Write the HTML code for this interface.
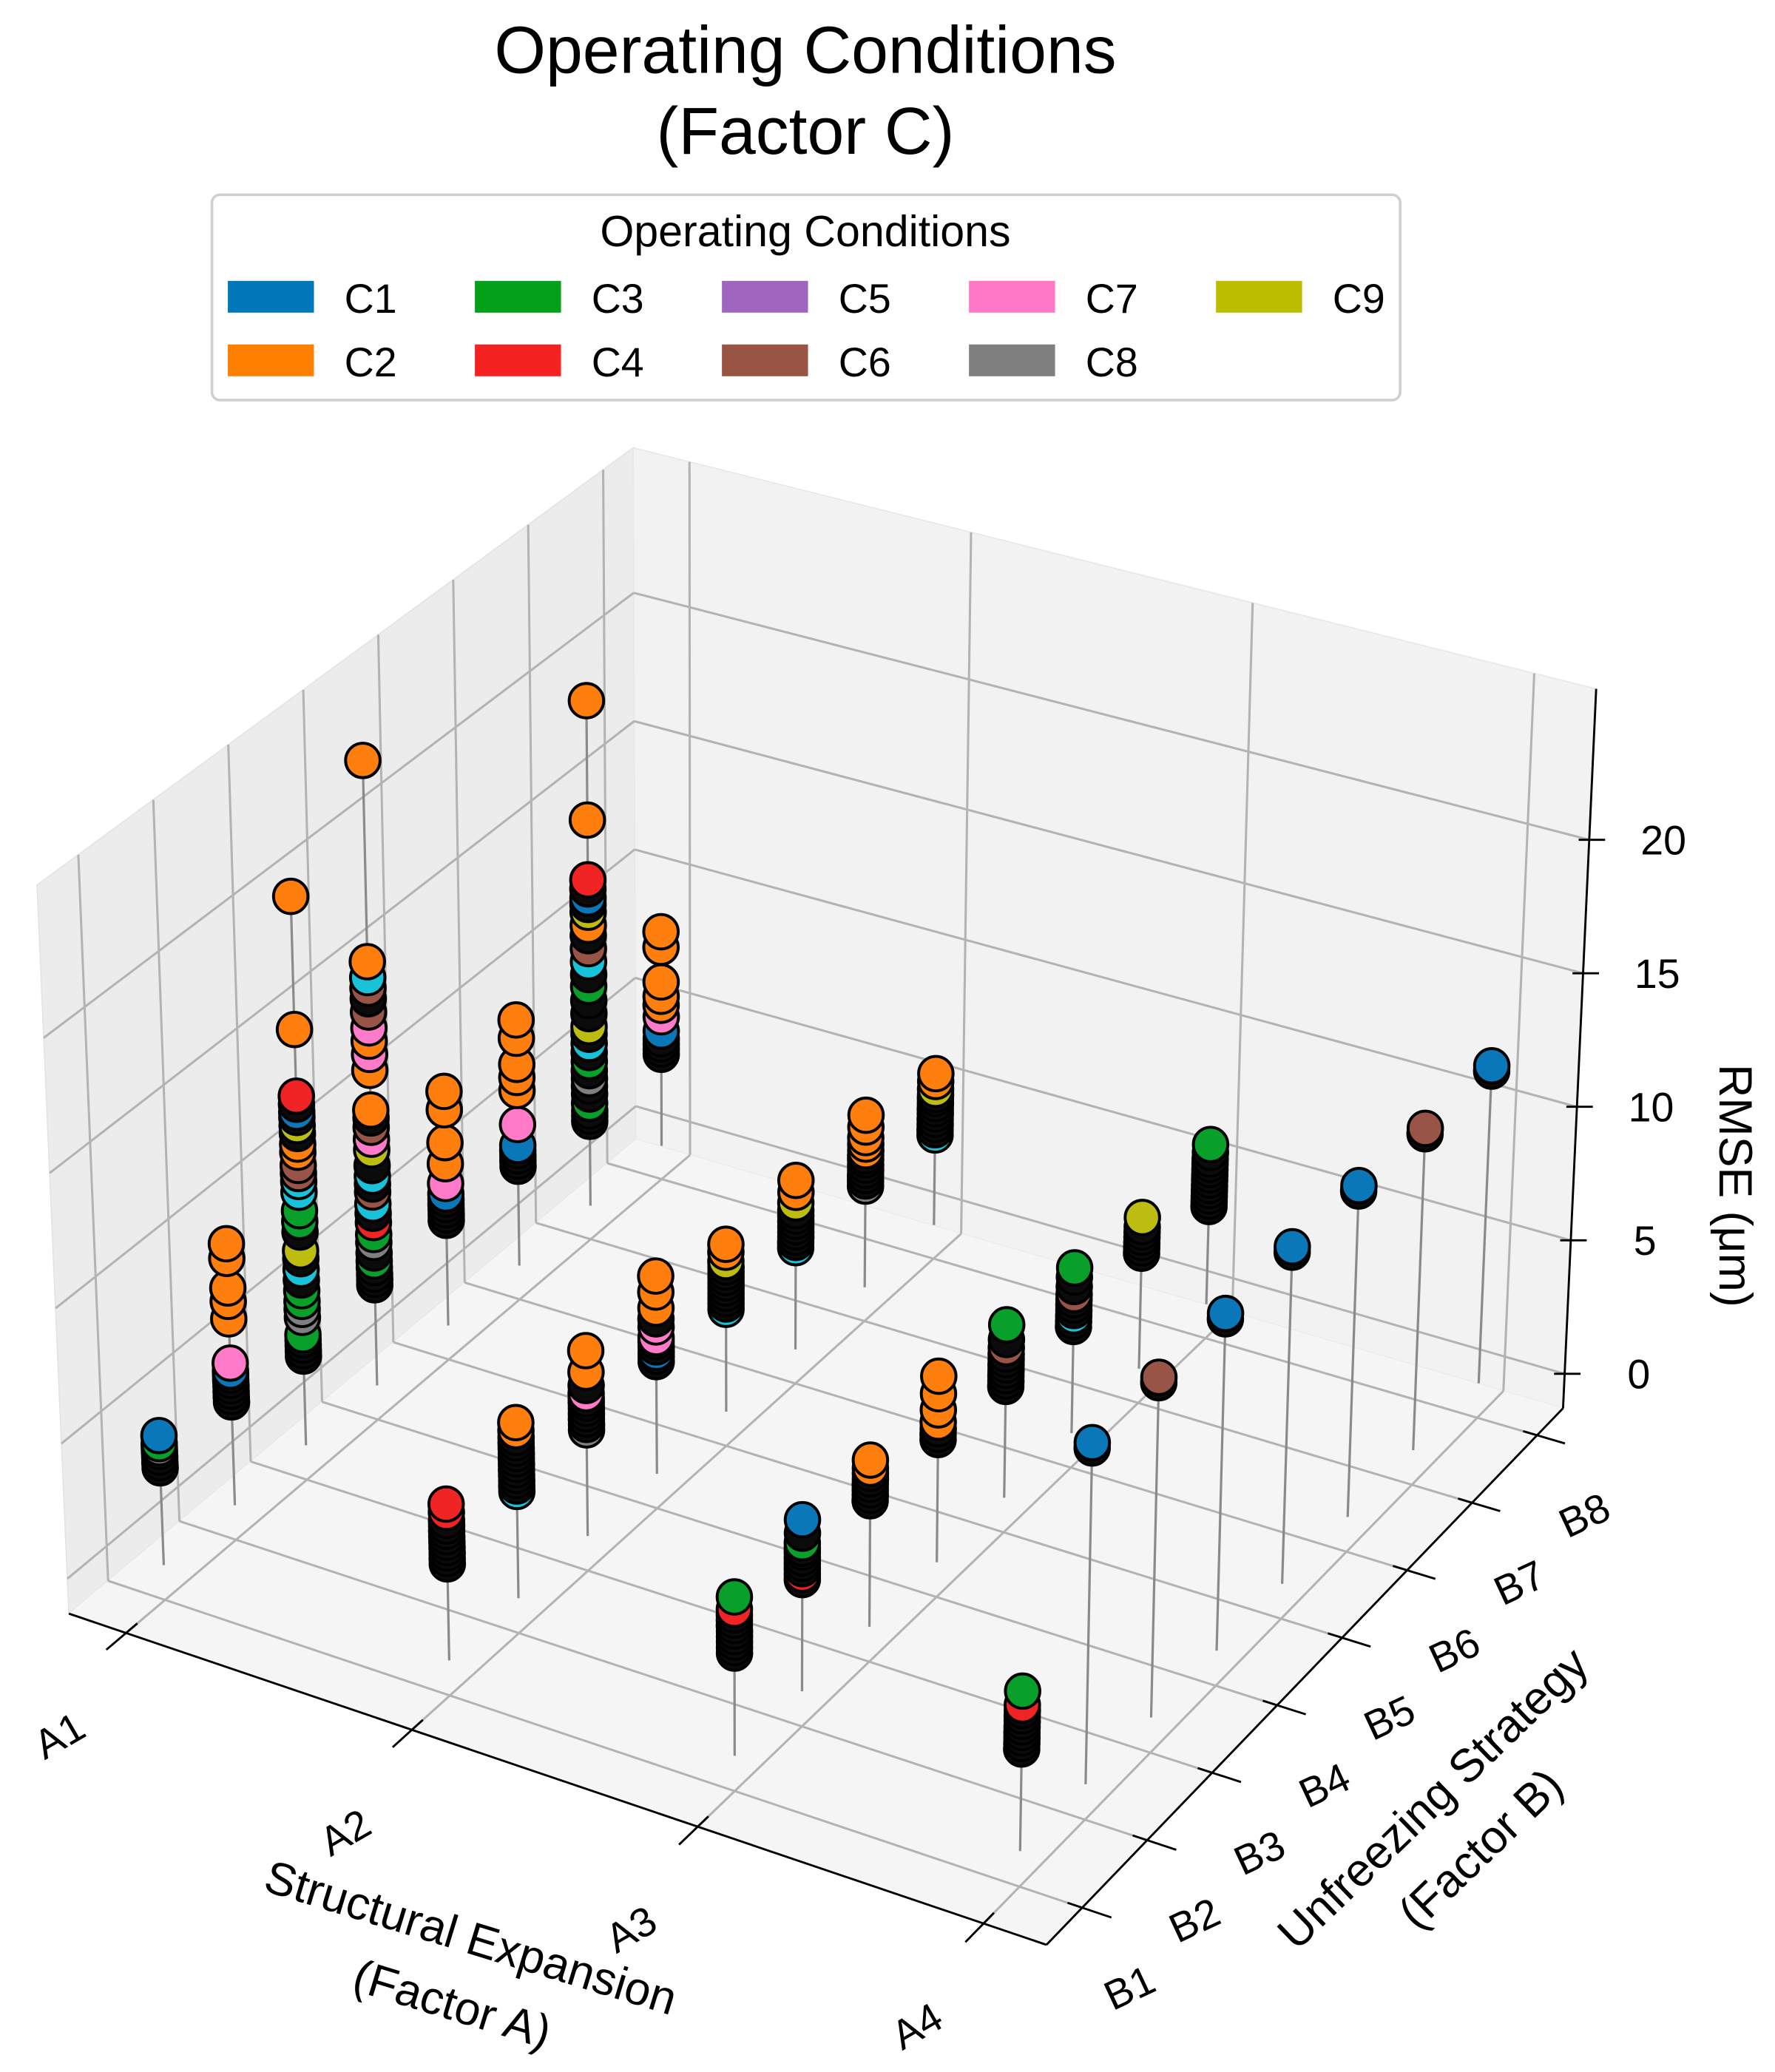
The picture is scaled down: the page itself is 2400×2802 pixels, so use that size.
<!DOCTYPE html>
<html><head><meta charset="utf-8">
<style>
html,body{margin:0;padding:0;background:#fff;}
svg{display:block;font-family:"Liberation Sans",sans-serif;}
</style></head>
<body>
<svg id="chart" width="2400" height="2802" viewBox="0 0 1340 1564" preserveAspectRatio="none" xmlns="http://www.w3.org/2000/svg">
<rect x="0" y="0" width="1340" height="1564" fill="#fff"/>
<text x="608" y="55" font-size="50" text-anchor="middle">Operating Conditions</text>
<text x="608" y="116" font-size="50" text-anchor="middle">(Factor C)</text>
<g>
<rect x="160" y="147" width="897" height="155" rx="6" fill="#fff" stroke="#cfcfcf" stroke-width="2"/>
<text x="608" y="186" font-size="33" text-anchor="middle">Operating Conditions</text>
</g>
<g id="plot"></g>
</svg>
<script>
// ---- data ----
const factorA = ["A1","A2","A3","A4"];
const factorB = ["B1","B2","B3","B4","B5","B6","B7","B8"];
const conditionNames = ["C1","C2","C3","C4","C5","C6","C7","C8","C9"];
const zTicks = [0,5,10,15,20];
// colour index: 0..8 = C1..C9, 9 = cyan, 10 = dense overlapped (dark)
const rmseA1 = [
 [3.6,3.8,4.0,4.2,4.35,4.5,4.8],
 [3.85,4.05,4.25,4.45,4.65,4.85,5.0,5.3,6.95,7.6,8.1,9.2,9.75],
 [3.35,3.55,3.75,3.95,4.15,4.8,5.1,5.4,5.8,6.2,6.6,7.0,7.3,8.0,8.4,8.8,9.5,9.9,10.2,10.5,11.0,11.3,11.7,12.0,12.3,12.5,12.8,13.1,15.6,20.6],
 [3.8,4.0,4.2,4.45,4.7,5.0,5.4,5.7,6.15,6.5,6.85,7.3,7.6,7.9,8.3,8.9,9.3,9.75,10.1,10.4,11.9,12.5,13.0,13.5,14.1,14.6,15.0,15.4,16.0,23.6],
 [4.0,4.2,4.4,4.6,4.8,5.0,5.4,6.15,6.95,8.2,8.9],
 [3.8,4.0,4.2,4.4,4.6,5.4,6.7,7.2,7.7,8.7,9.4],
 [3.25,3.45,3.65,3.95,4.3,4.6,4.9,5.2,5.55,5.9,6.25,6.6,6.9,7.4,7.9,8.45,8.9,9.4,9.9,10.4,10.8,11.3,11.6,11.85,12.2,12.55,14.85,19.45],
 [3.55,3.75,3.95,4.15,4.45,5.0,5.45,5.8,6.35,7.7,8.3]
];
const condA1 = [
 [10,10,10,10,7,2,0],
 [10,10,10,10,10,10,0,6,1,1,1,1,1],
 [10,10,10,10,2,7,7,2,2,10,9,10,8,10,2,2,9,9,5,5,1,1,10,8,10,0,10,3,1,1],
 [10,10,10,10,2,10,7,2,3,10,9,5,10,9,10,8,6,5,10,1,1,6,1,6,5,10,5,9,1,1],
 [10,10,10,10,10,0,6,1,1,1,1],
 [10,10,10,10,0,6,1,1,1,1,1],
 [10,10,10,2,10,10,7,10,2,10,9,10,8,10,10,2,10,9,5,10,1,8,10,0,10,3,1,1],
 [10,10,10,10,0,6,1,1,1,1,1]
];
const rmseA2 = [
 [3.55,3.75,3.95,4.15,4.35,4.55,4.75,4.95,5.15,5.45,5.75],
 [3.95,4.15,4.35,4.55,4.75,4.95,5.15,5.35,5.55,5.75,5.95,6.2,6.5],
 [3.95,4.15,4.35,4.55,4.75,4.95,5.1,5.3,5.6,6.1,6.9],
 [4.2,4.4,4.55,4.75,4.95,5.1,5.5,5.8,6.2,6.8,7.4],
 [3.85,4.05,4.25,4.45,4.65,4.85,5.05,5.25,5.45,5.65,6.0,6.3],
 [3.85,4.05,4.25,4.45,4.65,4.85,5.05,5.25,5.55,5.95,6.4],
 [3.85,4.05,4.25,4.45,4.65,4.85,5.0,5.2,5.45,5.7,6.1,6.55],
 [3.45,3.65,3.85,4.05,4.25,4.45,4.65,4.85,5.0,5.2,5.5,5.8]
];
const condA2 = [
 [10,10,10,10,10,10,10,10,10,3,3],
 [9,10,10,10,10,10,10,10,10,10,10,1,1],
 [7,10,10,10,10,10,10,6,10,1,1],
 [10,10,0,10,10,6,6,10,1,1,1],
 [9,10,10,10,10,10,10,10,10,8,1,1],
 [9,10,10,10,10,10,10,10,8,1,1],
 [7,10,10,10,10,10,10,1,1,1,1,1],
 [9,10,10,10,10,10,10,10,10,8,1,1]
];
const rmseA3 = [
 [3.75,3.95,4.15,4.35,4.55,4.75,4.95,5.15,5.35,5.8],
 [4.1,4.3,4.5,4.7,4.9,5.1,5.25,5.45,5.8,6.3],
 [4.65,4.85,5.05,5.25,5.45,5.65,5.85,6.15],
 [4.55,4.75,4.95,5.2,5.65,6.25,6.9],
 [4.15,4.35,4.55,4.75,4.95,5.15,5.35,5.6,5.9,6.45],
 [4.0,4.2,4.4,4.6,4.8,5.0,5.2,5.5,5.85,6.2],
 [4.35,4.55,4.75,4.95,5.15,5.35,5.7],
 [3.7,3.9,4.1,4.3,4.5,4.7,4.9,5.1,5.3,5.5,5.75,6.05]
];
const condA3 = [
 [10,10,10,10,10,10,10,10,3,2],
 [10,3,10,10,10,10,10,2,10,0],
 [10,10,10,10,10,10,1,1],
 [10,10,10,1,1,1,1],
 [10,10,10,10,10,10,10,5,10,2],
 [10,10,9,10,10,10,5,10,10,2],
 [10,10,10,10,10,10,8],
 [10,10,10,10,10,10,10,10,10,10,10,2]
];
const rmseA4 = [
 [3.7,3.9,4.1,4.3,4.5,4.7,4.9,5.1,5.3,5.8],
 [12.25,12.45],[12.25,12.45],[12.2,12.4],[12.25,12.45],[12.1,12.3],[11.8,12.0],[11.7,11.9]
];
const condA4 = [
 [10,10,10,10,10,10,10,10,3,2],
 [10,0],[10,5],[10,0],[10,0],[10,0],[10,5],[10,0]
];
const rmseRows = [rmseA1, rmseA2, rmseA3, rmseA4];
const condRows = [condA1, condA2, condA3, condA4];

// ---- styling / geometry ----
const palette = ["#0a78b8","#ff7f0e","#08a02a","#f02424","#a066bf","#985446","#ff7ac8","#7f7f7f","#bcbd10","#18c2d8","#0b0b0b"];
const legendPalette = ["#0077b8","#ff7f00","#03a01a","#f52222","#a066bf","#9a5444","#ff78c8","#7f7f7f","#bcbd00"];
const cL=[52,1218], cF=[790,1468], cR=[1180,1063], cK=[480,860];
const tL=[28,668], tF=[800,905], tR=[1205,520], tK=[478,338];
const A_MIN=0.8, A_MAX=4.22, B_MIN=0.45, B_MAX=8.4, Z_MIN=-1.29, Z_MAX=25.65;
function fa(i){return (i-A_MIN)/(A_MAX-A_MIN);}
function fb(j){return (j-B_MIN)/(B_MAX-B_MIN);}
function fz(v){return (v-Z_MIN)/(Z_MAX-Z_MIN);}
function bil(P0,P1,P2,P3,a,b){
  const w0=(1-a)*(1-b), w1=a*(1-b), w2=a*b, w3=(1-a)*b;
  return [P0[0]*w0+P1[0]*w1+P2[0]*w2+P3[0]*w3, P0[1]*w0+P1[1]*w1+P2[1]*w2+P3[1]*w3];
}
function proj(a,b,z){
  const lo=bil(cL,cF,cR,cK,a,b), hi=bil(tL,tF,tR,tK,a,b);
  return [lo[0]+(hi[0]-lo[0])*z, lo[1]+(hi[1]-lo[1])*z];
}
const NS="http://www.w3.org/2000/svg";
const plot=document.getElementById('plot');
function mk(tag,attrs,parent){
  const e=document.createElementNS(NS,tag);
  for(const k in attrs) e.setAttribute(k,attrs[k]);
  (parent||plot).appendChild(e);
  return e;
}
function pts(arr){return arr.map(p=>p[0].toFixed(1)+","+p[1].toFixed(1)).join(" ");}

// panes
let e;
e=mk('polygon',{points:pts([cL,cK,tK,tL]),fill:"#ececec",stroke:"#e4e4e4","stroke-width":1});


e=mk('polygon',{points:pts([cK,cR,tR,tK]),fill:"#f2f2f2",stroke:"#e8e8e8","stroke-width":1});


e=mk('polygon',{points:pts([cL,cF,cR,cK]),fill:"#f5f5f5",stroke:"none"});



const gridStyle={stroke:"#b3b3b3","stroke-width":1.7,fill:"none"};
function line(p,q,st,name){
  const l=mk('line',Object.assign({x1:p[0],y1:p[1],x2:q[0],y2:q[1]},st));
  
  
  return l;
}
// gridlines
factorA.forEach((lab,i)=>{
  const a=fa(i+1);
  line(proj(a,0,0),proj(a,1,0),gridStyle,'floor-grid-a');
  line(proj(a,1,0),proj(a,1,1),gridStyle,'back-grid-a');
});
factorB.forEach((lab,j)=>{
  const b=fb(j+1);
  line(proj(0,b,0),proj(1,b,0),gridStyle,'floor-grid-b');
  line(proj(0,b,0),proj(0,b,1),gridStyle,'left-grid-b');
});
zTicks.forEach(v=>{
  const z=fz(v);
  line(proj(0,0,z),proj(0,1,z),gridStyle,'left-grid-z');
  line(proj(0,1,z),proj(1,1,z),gridStyle,'back-grid-z');
});
// axis lines
const axStyle={stroke:"#000","stroke-width":1.6};
line(cL,cF,axStyle,'x-axis-line');
line(cF,cR,axStyle,'y-axis-line');
line(proj(1,1,0),proj(1,1,1),axStyle,'z-axis-line');
// ticks & labels
factorA.forEach((lab,i)=>{
  const a=fa(i+1);
  const p=proj(a,0,0);
  line(proj(a,0.02,0),proj(a,-0.035,0),axStyle,'x-tick');
  const t=mk('text',{x:p[0]-50,y:p[1]+88,"font-size":31,"text-anchor":"middle",transform:`rotate(-30 ${p[0]-50} ${p[1]+78})`});
  t.textContent=lab;
  
  
});
factorB.forEach((lab,j)=>{
  const b=fb(j+1);
  const p=proj(1,b,0);
  line(proj(0.985,b,0),proj(1.03,b,0),axStyle,'y-tick');
  const t=mk('text',{x:p[0]+36,y:p[1]+71,"font-size":31,"text-anchor":"middle",transform:`rotate(-25 ${p[0]+36} ${p[1]+61})`});
  t.textContent=lab;
  
  
});
zTicks.forEach(v=>{
  const p=proj(1,1,fz(v));
  line([p[0]-8,p[1]],[p[0]+12,p[1]],axStyle,'z-tick');
  const t=mk('text',{x:p[0]+56,y:p[1]+11,"font-size":31,"text-anchor":"middle"});
  t.textContent=String(v);
  
  
});
// axis titles
function title(txt,x,y,rot,name){
  const t=mk('text',{x:x,y:y,"font-size":35,"text-anchor":"middle",transform:`rotate(${rot} ${x} ${y})`});
  t.textContent=txt;
  
  
}
title("Structural Expansion",352,1474,17,'x-axis-title');
title("(Factor A)",338,1524,17,'x-axis-title-sub');
title("Unfreezing Strategy",1090,1366,-44,'y-axis-title');
title("(Factor B)",1126,1404,-44,'y-axis-title-sub');
title("RMSE (μm)",1298,895,90,'z-axis-title');

// stems & markers, far cells first
const cells=[];
rmseRows.forEach((row,i)=>row.forEach((vals,j)=>cells.push([i,j])));
cells.sort((p,q)=>(p[0]-p[1])-(q[0]-q[1]));
const R=13;
cells.forEach(([i,j])=>{
  const vals=rmseRows[i][j], cols=condRows[i][j];
  const a=fa(i+1), b=fb(j+1);
  const g=mk('g',{});
  
  
  const top=Math.max(...vals);
  const p0=proj(a,b,fz(0)), p1=proj(a,b,fz(top));
  const s=mk('line',{x1:p0[0],y1:p0[1],x2:p1[0],y2:p1[1],stroke:"#8a8a8a","stroke-width":1.8},g);
  
  
  vals.forEach((v,k)=>{
    const p=proj(a,b,fz(v));
    const c=mk('circle',{cx:p[0].toFixed(1),cy:p[1].toFixed(1),r:R,fill:palette[cols[k]],stroke:"#000","stroke-width":2.2},g);
    
    
  });
});

// legend entries
const svg=document.getElementById('chart');
conditionNames.forEach((nm,k)=>{
  const col=Math.floor(k/2), row=k%2;
  const x=172+col*186.5, y=212+row*48;
  const g=document.createElementNS(NS,'g');
  
  
  svg.appendChild(g);
  const r=mk('rect',{x:x,y:y,width:65,height:24,fill:legendPalette[k]},g);
  
  
  const t=mk('text',{x:x+88,y:y+24,"font-size":31},g);
  t.textContent=nm;
  
  
});
</script>
</body></html>
